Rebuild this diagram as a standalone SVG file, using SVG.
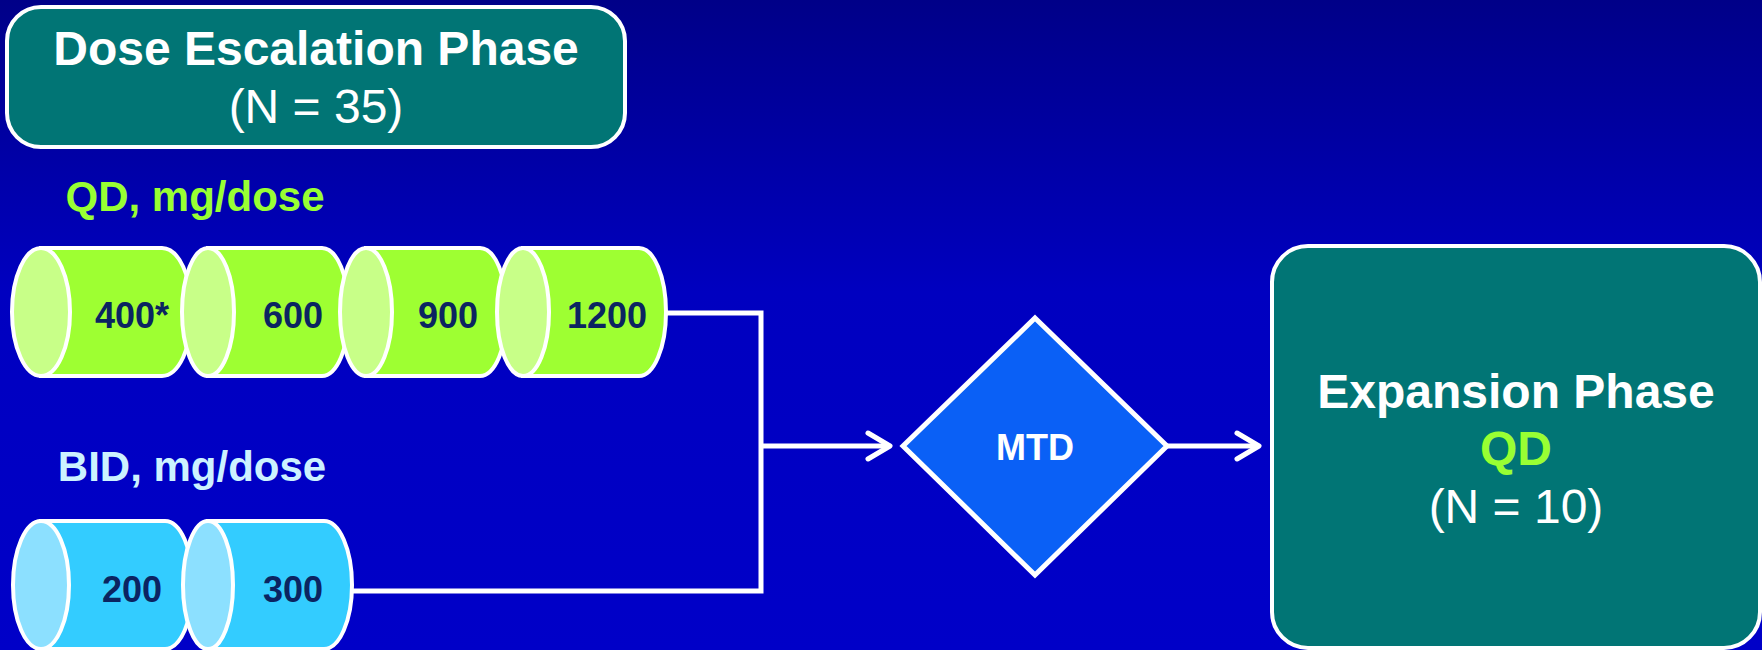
<svg xmlns="http://www.w3.org/2000/svg" width="1762" height="650" viewBox="0 0 1762 650">
<defs>
<linearGradient id="bg" x1="0" y1="0" x2="0" y2="1">
<stop offset="0" stop-color="#000088"/>
<stop offset="0.45" stop-color="#0000C0"/>
<stop offset="1" stop-color="#0000C8"/>
</linearGradient>
<style>
.box{fill:#017575;stroke:#fff;stroke-width:4}
.t{font-family:"Liberation Sans",Arial,sans-serif;text-anchor:middle}
.b{font-weight:bold}
.w{fill:#fff}
.qdb{fill:#9EFF32;stroke:#fff;stroke-width:4}
.qde{fill:#C8FF88;stroke:#fff;stroke-width:4}
.bidb{fill:#33CCFF;stroke:#fff;stroke-width:4}
.bide{fill:#8CE0FF;stroke:#fff;stroke-width:4}
.num{font-family:"Liberation Sans",Arial,sans-serif;font-weight:bold;font-size:36px;fill:#0B2461;text-anchor:middle}
.ln{fill:none;stroke:#fff;stroke-width:5}
.ah{fill:none;stroke:#fff;stroke-width:5;stroke-linecap:round;stroke-linejoin:round}
</style>
</defs>
<rect width="1762" height="650" fill="url(#bg)"/>

<g id="dose-escalation">
<rect class="box" x="7" y="7" width="618" height="140" rx="34"/>
<text class="t b w" x="316" y="65" font-size="48">Dose Escalation Phase</text>
<text class="t w" x="316" y="123" font-size="48">(N = 35)</text>
</g>

<g id="qd-label"><text class="t b" x="195" y="211" font-size="42" fill="#99FF33">QD, mg/dose</text></g>
<g id="bid-label"><text class="t b" x="192" y="481" font-size="42" fill="#CCF2FF">BID, mg/dose</text></g>

<g id="qd-400">
<path class="qdb" d="M41,248 H162 A30,64 0 0 1 162,376 H41 Z"/>
<ellipse class="qde" cx="41" cy="312" rx="29" ry="64"/>
<text class="num" x="132" y="328">400*</text>
</g>
<g id="qd-600">
<path class="qdb" d="M208,248 H322 A27,64 0 0 1 322,376 H208 Z"/>
<ellipse class="qde" cx="208" cy="312" rx="26" ry="64"/>
<text class="num" x="293" y="328">600</text>
</g>
<g id="qd-900">
<path class="qdb" d="M366,248 H480 A27,64 0 0 1 480,376 H366 Z"/>
<ellipse class="qde" cx="366" cy="312" rx="26" ry="64"/>
<text class="num" x="448" y="328">900</text>
</g>
<g id="qd-1200">
<path class="qdb" d="M523,248 H639 A27,64 0 0 1 639,376 H523 Z"/>
<ellipse class="qde" cx="523" cy="312" rx="26" ry="64"/>
<text class="num" x="607" y="328">1200</text>
</g>

<g id="bid-200">
<path class="bidb" d="M41,521 H165 A28,64 0 0 1 165,649 H41 Z"/>
<ellipse class="bide" cx="41" cy="585" rx="28" ry="64"/>
<text class="num" x="132" y="602">200</text>
</g>
<g id="bid-300">
<path class="bidb" d="M208,521 H324 A28,64 0 0 1 324,649 H208 Z"/>
<ellipse class="bide" cx="208" cy="585" rx="25" ry="64"/>
<text class="num" x="293" y="602">300</text>
</g>

<g id="connectors">
<path class="ln" d="M666,313 H761 V591 H352"/>
<path class="ln" d="M761,446 H888"/>
<path class="ah" d="M868,433 L890,446 L868,459"/>
<path class="ln" d="M1167,446 H1258"/>
<path class="ah" d="M1237,433 L1259,446 L1237,459"/>
</g>

<g id="mtd">
<polygon points="1035,318 1167,446 1035,575 903,446" fill="#0A60F6" stroke="#fff" stroke-width="5" stroke-linejoin="miter"/>
<text class="t b w" x="1035" y="460" font-size="36">MTD</text>
</g>

<g id="expansion">
<rect class="box" x="1272" y="246" width="488" height="402" rx="36"/>
<text class="t b w" x="1516" y="408" font-size="48">Expansion Phase</text>
<text class="t b" x="1516" y="465" font-size="48" fill="#99FF33">QD</text>
<text class="t w" x="1516" y="523" font-size="48">(N = 10)</text>
</g>
</svg>
